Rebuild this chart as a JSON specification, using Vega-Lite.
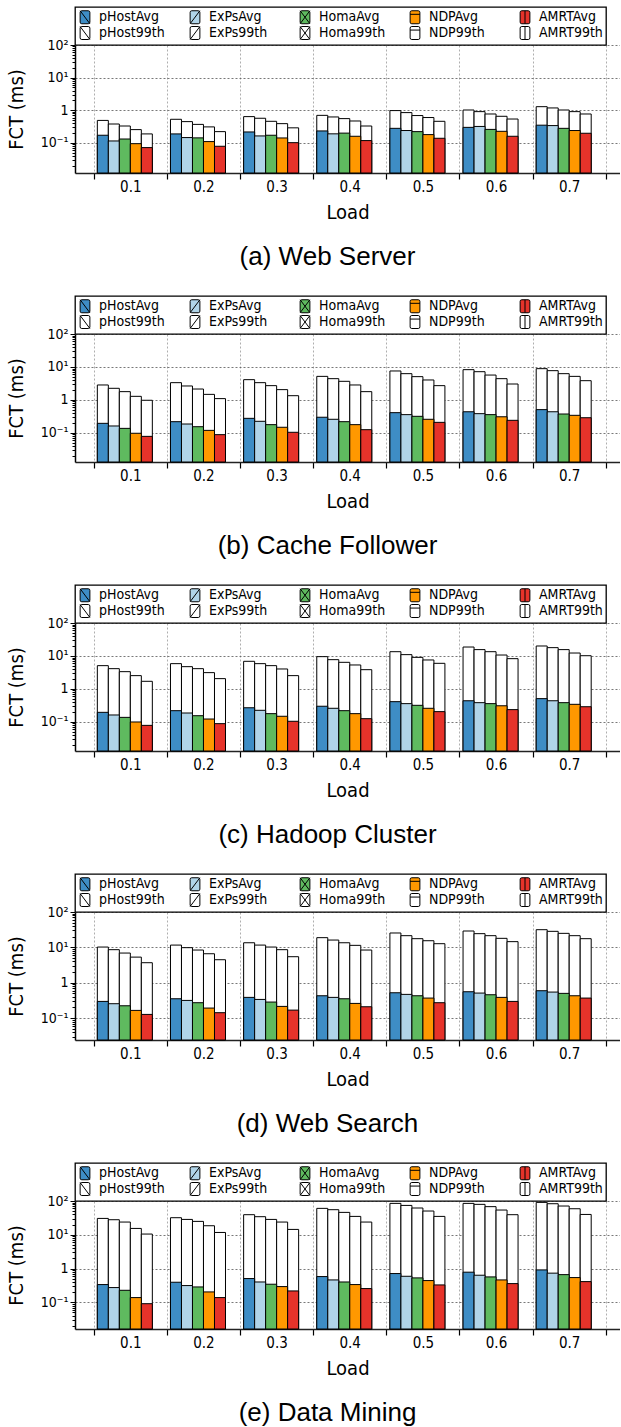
{
"$schema": "https://vega.github.io/schema/vega-lite/v6.json",
"padding": {"left": 6, "top": 6, "right": 0, "bottom": 0},
"background": "white",
"config": {
  "view": {"stroke": null},
  "font": "DejaVu Sans Condensed",
  "axis": {"labelFont": "DejaVu Sans Condensed", "titleFont": "DejaVu Sans Condensed", "labelColor": "black", "titleColor": "black", "tickColor": "black", "domainColor": "black", "titleFontWeight": "normal"},
  "axisX": {"titleFontSize": 20, "titlePadding": 8, "labelFontSize": 15, "labelAngle": 0, "labelPadding": 0, "tickSize": 6, "tickWidth": 1.2, "tickBand": "extent", "grid": true, "gridDash": [2, 2], "gridColor": "#999999", "gridWidth": 0.8, "domainWidth": 1.6, "domainColor": "#222222"},
  "legend": {"orient": "top", "direction": "horizontal", "columns": 5, "offset": 0, "strokeColor": "black", "strokeWidth": 1.3, "fillColor": "white", "padding": 3, "symbolSize": 169, "symbolStrokeColor": "black", "symbolStrokeWidth": 1, "symbolOpacity": 1, "labelFont": "DejaVu Sans Condensed", "labelFontSize": 14, "labelColor": "black", "labelOffset": 7, "columnPadding": 22, "rowPadding": -3, "gridAlign": "all", "labelLimit": 200},
  "title": {"font": "Liberation Sans", "fontSize": 26, "fontWeight": "normal", "color": "black", "orient": "bottom", "anchor": "middle", "dx": -20, "offset": 22}
},
"spacing": 25,
"resolve": {"scale": {"color": "independent", "shape": "independent"}},
"datasets": {
"fct": [
{"p":"a","l":"0.1","m":"pHost","s":"99th","k":"pHost99th","v":0.49},{"p":"a","l":"0.1","m":"ExPs","s":"99th","k":"ExPs99th","v":0.38},{"p":"a","l":"0.1","m":"Homa","s":"99th","k":"Homa99th","v":0.33},{"p":"a","l":"0.1","m":"NDP","s":"99th","k":"NDP99th","v":0.256},{"p":"a","l":"0.1","m":"AMRT","s":"99th","k":"AMRT99th","v":0.189},
{"p":"a","l":"0.1","m":"pHost","s":"Avg","k":"pHostAvg","v":0.172},{"p":"a","l":"0.1","m":"ExPs","s":"Avg","k":"ExPsAvg","v":0.115},{"p":"a","l":"0.1","m":"Homa","s":"Avg","k":"HomaAvg","v":0.132},{"p":"a","l":"0.1","m":"NDP","s":"Avg","k":"NDPAvg","v":0.095},{"p":"a","l":"0.1","m":"AMRT","s":"Avg","k":"AMRTAvg","v":0.072},
{"p":"a","l":"0.2","m":"pHost","s":"99th","k":"pHost99th","v":0.53},{"p":"a","l":"0.2","m":"ExPs","s":"99th","k":"ExPs99th","v":0.45},{"p":"a","l":"0.2","m":"Homa","s":"99th","k":"Homa99th","v":0.37},{"p":"a","l":"0.2","m":"NDP","s":"99th","k":"NDP99th","v":0.31},{"p":"a","l":"0.2","m":"AMRT","s":"99th","k":"AMRT99th","v":0.222},
{"p":"a","l":"0.2","m":"pHost","s":"Avg","k":"pHostAvg","v":0.189},{"p":"a","l":"0.2","m":"ExPs","s":"Avg","k":"ExPsAvg","v":0.146},{"p":"a","l":"0.2","m":"Homa","s":"Avg","k":"HomaAvg","v":0.143},{"p":"a","l":"0.2","m":"NDP","s":"Avg","k":"NDPAvg","v":0.11},{"p":"a","l":"0.2","m":"AMRT","s":"Avg","k":"AMRTAvg","v":0.079},
{"p":"a","l":"0.3","m":"pHost","s":"99th","k":"pHost99th","v":0.64},{"p":"a","l":"0.3","m":"ExPs","s":"99th","k":"ExPs99th","v":0.57},{"p":"a","l":"0.3","m":"Homa","s":"99th","k":"Homa99th","v":0.46},{"p":"a","l":"0.3","m":"NDP","s":"99th","k":"NDP99th","v":0.39},{"p":"a","l":"0.3","m":"AMRT","s":"99th","k":"AMRT99th","v":0.29},
{"p":"a","l":"0.3","m":"pHost","s":"Avg","k":"pHostAvg","v":0.217},{"p":"a","l":"0.3","m":"ExPs","s":"Avg","k":"ExPsAvg","v":0.164},{"p":"a","l":"0.3","m":"Homa","s":"Avg","k":"HomaAvg","v":0.172},{"p":"a","l":"0.3","m":"NDP","s":"Avg","k":"NDPAvg","v":0.142},{"p":"a","l":"0.3","m":"AMRT","s":"Avg","k":"AMRTAvg","v":0.102},
{"p":"a","l":"0.4","m":"pHost","s":"99th","k":"pHost99th","v":0.70},{"p":"a","l":"0.4","m":"ExPs","s":"99th","k":"ExPs99th","v":0.625},{"p":"a","l":"0.4","m":"Homa","s":"99th","k":"Homa99th","v":0.556},{"p":"a","l":"0.4","m":"NDP","s":"99th","k":"NDP99th","v":0.47},{"p":"a","l":"0.4","m":"AMRT","s":"99th","k":"AMRT99th","v":0.33},
{"p":"a","l":"0.4","m":"pHost","s":"Avg","k":"pHostAvg","v":0.233},{"p":"a","l":"0.4","m":"ExPs","s":"Avg","k":"ExPsAvg","v":0.19},{"p":"a","l":"0.4","m":"Homa","s":"Avg","k":"HomaAvg","v":0.20},{"p":"a","l":"0.4","m":"NDP","s":"Avg","k":"NDPAvg","v":0.16},{"p":"a","l":"0.4","m":"AMRT","s":"Avg","k":"AMRTAvg","v":0.118},
{"p":"a","l":"0.5","m":"pHost","s":"99th","k":"pHost99th","v":0.98},{"p":"a","l":"0.5","m":"ExPs","s":"99th","k":"ExPs99th","v":0.85},{"p":"a","l":"0.5","m":"Homa","s":"99th","k":"Homa99th","v":0.69},{"p":"a","l":"0.5","m":"NDP","s":"99th","k":"NDP99th","v":0.60},{"p":"a","l":"0.5","m":"AMRT","s":"99th","k":"AMRT99th","v":0.46},
{"p":"a","l":"0.5","m":"pHost","s":"Avg","k":"pHostAvg","v":0.28},{"p":"a","l":"0.5","m":"ExPs","s":"Avg","k":"ExPsAvg","v":0.24},{"p":"a","l":"0.5","m":"Homa","s":"Avg","k":"HomaAvg","v":0.222},{"p":"a","l":"0.5","m":"NDP","s":"Avg","k":"NDPAvg","v":0.18},{"p":"a","l":"0.5","m":"AMRT","s":"Avg","k":"AMRTAvg","v":0.139},
{"p":"a","l":"0.6","m":"pHost","s":"99th","k":"pHost99th","v":1.02},{"p":"a","l":"0.6","m":"ExPs","s":"99th","k":"ExPs99th","v":0.91},{"p":"a","l":"0.6","m":"Homa","s":"99th","k":"Homa99th","v":0.77},{"p":"a","l":"0.6","m":"NDP","s":"99th","k":"NDP99th","v":0.655},{"p":"a","l":"0.6","m":"AMRT","s":"99th","k":"AMRT99th","v":0.54},
{"p":"a","l":"0.6","m":"pHost","s":"Avg","k":"pHostAvg","v":0.30},{"p":"a","l":"0.6","m":"ExPs","s":"Avg","k":"ExPsAvg","v":0.32},{"p":"a","l":"0.6","m":"Homa","s":"Avg","k":"HomaAvg","v":0.26},{"p":"a","l":"0.6","m":"NDP","s":"Avg","k":"NDPAvg","v":0.227},{"p":"a","l":"0.6","m":"AMRT","s":"Avg","k":"AMRTAvg","v":0.16},
{"p":"a","l":"0.7","m":"pHost","s":"99th","k":"pHost99th","v":1.29},{"p":"a","l":"0.7","m":"ExPs","s":"99th","k":"ExPs99th","v":1.18},{"p":"a","l":"0.7","m":"Homa","s":"99th","k":"Homa99th","v":1.02},{"p":"a","l":"0.7","m":"NDP","s":"99th","k":"NDP99th","v":0.91},{"p":"a","l":"0.7","m":"AMRT","s":"99th","k":"AMRT99th","v":0.77},
{"p":"a","l":"0.7","m":"pHost","s":"Avg","k":"pHostAvg","v":0.35},{"p":"a","l":"0.7","m":"ExPs","s":"Avg","k":"ExPsAvg","v":0.34},{"p":"a","l":"0.7","m":"Homa","s":"Avg","k":"HomaAvg","v":0.28},{"p":"a","l":"0.7","m":"NDP","s":"Avg","k":"NDPAvg","v":0.24},{"p":"a","l":"0.7","m":"AMRT","s":"Avg","k":"AMRTAvg","v":0.198},
{"p":"b","l":"0.1","m":"pHost","s":"99th","k":"pHost99th","v":2.85},{"p":"b","l":"0.1","m":"ExPs","s":"99th","k":"ExPs99th","v":2.26},{"p":"b","l":"0.1","m":"Homa","s":"99th","k":"Homa99th","v":1.79},{"p":"b","l":"0.1","m":"NDP","s":"99th","k":"NDP99th","v":1.29},{"p":"b","l":"0.1","m":"AMRT","s":"99th","k":"AMRT99th","v":0.98},
{"p":"b","l":"0.1","m":"pHost","s":"Avg","k":"pHostAvg","v":0.196},{"p":"b","l":"0.1","m":"ExPs","s":"Avg","k":"ExPsAvg","v":0.163},{"p":"b","l":"0.1","m":"Homa","s":"Avg","k":"HomaAvg","v":0.138},{"p":"b","l":"0.1","m":"NDP","s":"Avg","k":"NDPAvg","v":0.098},{"p":"b","l":"0.1","m":"AMRT","s":"Avg","k":"AMRTAvg","v":0.079},
{"p":"b","l":"0.2","m":"pHost","s":"99th","k":"pHost99th","v":3.35},{"p":"b","l":"0.2","m":"ExPs","s":"99th","k":"ExPs99th","v":2.66},{"p":"b","l":"0.2","m":"Homa","s":"99th","k":"Homa99th","v":2.15},{"p":"b","l":"0.2","m":"NDP","s":"99th","k":"NDP99th","v":1.48},{"p":"b","l":"0.2","m":"AMRT","s":"99th","k":"AMRT99th","v":1.1},
{"p":"b","l":"0.2","m":"pHost","s":"Avg","k":"pHostAvg","v":0.22},{"p":"b","l":"0.2","m":"ExPs","s":"Avg","k":"ExPsAvg","v":0.187},{"p":"b","l":"0.2","m":"Homa","s":"Avg","k":"HomaAvg","v":0.155},{"p":"b","l":"0.2","m":"NDP","s":"Avg","k":"NDPAvg","v":0.12},{"p":"b","l":"0.2","m":"AMRT","s":"Avg","k":"AMRTAvg","v":0.089},
{"p":"b","l":"0.3","m":"pHost","s":"99th","k":"pHost99th","v":4.13},{"p":"b","l":"0.3","m":"ExPs","s":"99th","k":"ExPs99th","v":3.35},{"p":"b","l":"0.3","m":"Homa","s":"99th","k":"Homa99th","v":2.72},{"p":"b","l":"0.3","m":"NDP","s":"99th","k":"NDP99th","v":2.06},{"p":"b","l":"0.3","m":"AMRT","s":"99th","k":"AMRT99th","v":1.35},
{"p":"b","l":"0.3","m":"pHost","s":"Avg","k":"pHostAvg","v":0.278},{"p":"b","l":"0.3","m":"ExPs","s":"Avg","k":"ExPsAvg","v":0.226},{"p":"b","l":"0.3","m":"Homa","s":"Avg","k":"HomaAvg","v":0.179},{"p":"b","l":"0.3","m":"NDP","s":"Avg","k":"NDPAvg","v":0.149},{"p":"b","l":"0.3","m":"AMRT","s":"Avg","k":"AMRTAvg","v":0.105},
{"p":"b","l":"0.4","m":"pHost","s":"99th","k":"pHost99th","v":5.2},{"p":"b","l":"0.4","m":"ExPs","s":"99th","k":"ExPs99th","v":4.43},{"p":"b","l":"0.4","m":"Homa","s":"99th","k":"Homa99th","v":3.68},{"p":"b","l":"0.4","m":"NDP","s":"99th","k":"NDP99th","v":2.85},{"p":"b","l":"0.4","m":"AMRT","s":"99th","k":"AMRT99th","v":1.79},
{"p":"b","l":"0.4","m":"pHost","s":"Avg","k":"pHostAvg","v":0.30},{"p":"b","l":"0.4","m":"ExPs","s":"Avg","k":"ExPsAvg","v":0.26},{"p":"b","l":"0.4","m":"Homa","s":"Avg","k":"HomaAvg","v":0.22},{"p":"b","l":"0.4","m":"NDP","s":"Avg","k":"NDPAvg","v":0.179},{"p":"b","l":"0.4","m":"AMRT","s":"Avg","k":"AMRTAvg","v":0.126},
{"p":"b","l":"0.5","m":"pHost","s":"99th","k":"pHost99th","v":7.57},{"p":"b","l":"0.5","m":"ExPs","s":"99th","k":"ExPs99th","v":6.28},{"p":"b","l":"0.5","m":"Homa","s":"99th","k":"Homa99th","v":5.1},{"p":"b","l":"0.5","m":"NDP","s":"99th","k":"NDP99th","v":4.04},{"p":"b","l":"0.5","m":"AMRT","s":"99th","k":"AMRT99th","v":2.72},
{"p":"b","l":"0.5","m":"pHost","s":"Avg","k":"pHostAvg","v":0.413},{"p":"b","l":"0.5","m":"ExPs","s":"Avg","k":"ExPsAvg","v":0.36},{"p":"b","l":"0.5","m":"Homa","s":"Avg","k":"HomaAvg","v":0.32},{"p":"b","l":"0.5","m":"NDP","s":"Avg","k":"NDPAvg","v":0.26},{"p":"b","l":"0.5","m":"AMRT","s":"Avg","k":"AMRTAvg","v":0.21},
{"p":"b","l":"0.6","m":"pHost","s":"99th","k":"pHost99th","v":8.3},{"p":"b","l":"0.6","m":"ExPs","s":"99th","k":"ExPs99th","v":7.2},{"p":"b","l":"0.6","m":"Homa","s":"99th","k":"Homa99th","v":5.7},{"p":"b","l":"0.6","m":"NDP","s":"99th","k":"NDP99th","v":4.43},{"p":"b","l":"0.6","m":"AMRT","s":"99th","k":"AMRT99th","v":3.05},
{"p":"b","l":"0.6","m":"pHost","s":"Avg","k":"pHostAvg","v":0.44},{"p":"b","l":"0.6","m":"ExPs","s":"Avg","k":"ExPsAvg","v":0.385},{"p":"b","l":"0.6","m":"Homa","s":"Avg","k":"HomaAvg","v":0.36},{"p":"b","l":"0.6","m":"NDP","s":"Avg","k":"NDPAvg","v":0.31},{"p":"b","l":"0.6","m":"AMRT","s":"Avg","k":"AMRTAvg","v":0.242},
{"p":"b","l":"0.7","m":"pHost","s":"99th","k":"pHost99th","v":8.9},{"p":"b","l":"0.7","m":"ExPs","s":"99th","k":"ExPs99th","v":7.74},{"p":"b","l":"0.7","m":"Homa","s":"99th","k":"Homa99th","v":6.28},{"p":"b","l":"0.7","m":"NDP","s":"99th","k":"NDP99th","v":5.2},{"p":"b","l":"0.7","m":"AMRT","s":"99th","k":"AMRT99th","v":3.85},
{"p":"b","l":"0.7","m":"pHost","s":"Avg","k":"pHostAvg","v":0.51},{"p":"b","l":"0.7","m":"ExPs","s":"Avg","k":"ExPsAvg","v":0.44},{"p":"b","l":"0.7","m":"Homa","s":"Avg","k":"HomaAvg","v":0.376},{"p":"b","l":"0.7","m":"NDP","s":"Avg","k":"NDPAvg","v":0.343},{"p":"b","l":"0.7","m":"AMRT","s":"Avg","k":"AMRTAvg","v":0.29},
{"p":"c","l":"0.1","m":"pHost","s":"99th","k":"pHost99th","v":5.1},{"p":"c","l":"0.1","m":"ExPs","s":"99th","k":"ExPs99th","v":4.13},{"p":"c","l":"0.1","m":"Homa","s":"99th","k":"Homa99th","v":3.35},{"p":"c","l":"0.1","m":"NDP","s":"99th","k":"NDP99th","v":2.54},{"p":"c","l":"0.1","m":"AMRT","s":"99th","k":"AMRT99th","v":1.71},
{"p":"c","l":"0.1","m":"pHost","s":"Avg","k":"pHostAvg","v":0.196},{"p":"c","l":"0.1","m":"ExPs","s":"Avg","k":"ExPsAvg","v":0.163},{"p":"c","l":"0.1","m":"Homa","s":"Avg","k":"HomaAvg","v":0.138},{"p":"c","l":"0.1","m":"NDP","s":"Avg","k":"NDPAvg","v":0.1},{"p":"c","l":"0.1","m":"AMRT","s":"Avg","k":"AMRTAvg","v":0.079},
{"p":"c","l":"0.2","m":"pHost","s":"99th","k":"pHost99th","v":5.86},{"p":"c","l":"0.2","m":"ExPs","s":"99th","k":"ExPs99th","v":4.75},{"p":"c","l":"0.2","m":"Homa","s":"99th","k":"Homa99th","v":4.13},{"p":"c","l":"0.2","m":"NDP","s":"99th","k":"NDP99th","v":3.13},{"p":"c","l":"0.2","m":"AMRT","s":"99th","k":"AMRT99th","v":2.06},
{"p":"c","l":"0.2","m":"pHost","s":"Avg","k":"pHostAvg","v":0.22},{"p":"c","l":"0.2","m":"ExPs","s":"Avg","k":"ExPsAvg","v":0.187},{"p":"c","l":"0.2","m":"Homa","s":"Avg","k":"HomaAvg","v":0.155},{"p":"c","l":"0.2","m":"NDP","s":"Avg","k":"NDPAvg","v":0.123},{"p":"c","l":"0.2","m":"AMRT","s":"Avg","k":"AMRTAvg","v":0.089},
{"p":"c","l":"0.3","m":"pHost","s":"99th","k":"pHost99th","v":6.9},{"p":"c","l":"0.3","m":"ExPs","s":"99th","k":"ExPs99th","v":5.86},{"p":"c","l":"0.3","m":"Homa","s":"99th","k":"Homa99th","v":5.1},{"p":"c","l":"0.3","m":"NDP","s":"99th","k":"NDP99th","v":4.04},{"p":"c","l":"0.3","m":"AMRT","s":"99th","k":"AMRT99th","v":2.54},
{"p":"c","l":"0.3","m":"pHost","s":"Avg","k":"pHostAvg","v":0.27},{"p":"c","l":"0.3","m":"ExPs","s":"Avg","k":"ExPsAvg","v":0.226},{"p":"c","l":"0.3","m":"Homa","s":"Avg","k":"HomaAvg","v":0.179},{"p":"c","l":"0.3","m":"NDP","s":"Avg","k":"NDPAvg","v":0.149},{"p":"c","l":"0.3","m":"AMRT","s":"Avg","k":"AMRTAvg","v":0.105},
{"p":"c","l":"0.4","m":"pHost","s":"99th","k":"pHost99th","v":9.55},{"p":"c","l":"0.4","m":"ExPs","s":"99th","k":"ExPs99th","v":7.74},{"p":"c","l":"0.4","m":"Homa","s":"99th","k":"Homa99th","v":6.43},{"p":"c","l":"0.4","m":"NDP","s":"99th","k":"NDP99th","v":5.34},{"p":"c","l":"0.4","m":"AMRT","s":"99th","k":"AMRT99th","v":3.85},
{"p":"c","l":"0.4","m":"pHost","s":"Avg","k":"pHostAvg","v":0.30},{"p":"c","l":"0.4","m":"ExPs","s":"Avg","k":"ExPsAvg","v":0.26},{"p":"c","l":"0.4","m":"Homa","s":"Avg","k":"HomaAvg","v":0.22},{"p":"c","l":"0.4","m":"NDP","s":"Avg","k":"NDPAvg","v":0.179},{"p":"c","l":"0.4","m":"AMRT","s":"Avg","k":"AMRTAvg","v":0.126},
{"p":"c","l":"0.5","m":"pHost","s":"99th","k":"pHost99th","v":13.5},{"p":"c","l":"0.5","m":"ExPs","s":"99th","k":"ExPs99th","v":11.0},{"p":"c","l":"0.5","m":"Homa","s":"99th","k":"Homa99th","v":9.1},{"p":"c","l":"0.5","m":"NDP","s":"99th","k":"NDP99th","v":7.57},{"p":"c","l":"0.5","m":"AMRT","s":"99th","k":"AMRT99th","v":6.0},
{"p":"c","l":"0.5","m":"pHost","s":"Avg","k":"pHostAvg","v":0.413},{"p":"c","l":"0.5","m":"ExPs","s":"Avg","k":"ExPsAvg","v":0.36},{"p":"c","l":"0.5","m":"Homa","s":"Avg","k":"HomaAvg","v":0.32},{"p":"c","l":"0.5","m":"NDP","s":"Avg","k":"NDPAvg","v":0.26},{"p":"c","l":"0.5","m":"AMRT","s":"Avg","k":"AMRTAvg","v":0.206},
{"p":"c","l":"0.6","m":"pHost","s":"99th","k":"pHost99th","v":18.7},{"p":"c","l":"0.6","m":"ExPs","s":"99th","k":"ExPs99th","v":15.6},{"p":"c","l":"0.6","m":"Homa","s":"99th","k":"Homa99th","v":13.5},{"p":"c","l":"0.6","m":"NDP","s":"99th","k":"NDP99th","v":10.7},{"p":"c","l":"0.6","m":"AMRT","s":"99th","k":"AMRT99th","v":8.3},
{"p":"c","l":"0.6","m":"pHost","s":"Avg","k":"pHostAvg","v":0.44},{"p":"c","l":"0.6","m":"ExPs","s":"Avg","k":"ExPsAvg","v":0.385},{"p":"c","l":"0.6","m":"Homa","s":"Avg","k":"HomaAvg","v":0.36},{"p":"c","l":"0.6","m":"NDP","s":"Avg","k":"NDPAvg","v":0.31},{"p":"c","l":"0.6","m":"AMRT","s":"Avg","k":"AMRTAvg","v":0.237},
{"p":"c","l":"0.7","m":"pHost","s":"99th","k":"pHost99th","v":20.1},{"p":"c","l":"0.7","m":"ExPs","s":"99th","k":"ExPs99th","v":17.9},{"p":"c","l":"0.7","m":"Homa","s":"99th","k":"Homa99th","v":15.6},{"p":"c","l":"0.7","m":"NDP","s":"99th","k":"NDP99th","v":12.3},{"p":"c","l":"0.7","m":"AMRT","s":"99th","k":"AMRT99th","v":10.2},
{"p":"c","l":"0.7","m":"pHost","s":"Avg","k":"pHostAvg","v":0.51},{"p":"c","l":"0.7","m":"ExPs","s":"Avg","k":"ExPsAvg","v":0.44},{"p":"c","l":"0.7","m":"Homa","s":"Avg","k":"HomaAvg","v":0.385},{"p":"c","l":"0.7","m":"NDP","s":"Avg","k":"NDPAvg","v":0.343},{"p":"c","l":"0.7","m":"AMRT","s":"Avg","k":"AMRTAvg","v":0.29},
{"p":"d","l":"0.1","m":"pHost","s":"99th","k":"pHost99th","v":10.2},{"p":"d","l":"0.1","m":"ExPs","s":"99th","k":"ExPs99th","v":8.6},{"p":"d","l":"0.1","m":"Homa","s":"99th","k":"Homa99th","v":6.9},{"p":"d","l":"0.1","m":"NDP","s":"99th","k":"NDP99th","v":5.3},{"p":"d","l":"0.1","m":"AMRT","s":"99th","k":"AMRT99th","v":3.68},
{"p":"d","l":"0.1","m":"pHost","s":"Avg","k":"pHostAvg","v":0.296},{"p":"d","l":"0.1","m":"ExPs","s":"Avg","k":"ExPsAvg","v":0.255},{"p":"d","l":"0.1","m":"Homa","s":"Avg","k":"HomaAvg","v":0.223},{"p":"d","l":"0.1","m":"NDP","s":"Avg","k":"NDPAvg","v":0.165},{"p":"d","l":"0.1","m":"AMRT","s":"Avg","k":"AMRTAvg","v":0.127},
{"p":"d","l":"0.2","m":"pHost","s":"99th","k":"pHost99th","v":11.6},{"p":"d","l":"0.2","m":"ExPs","s":"99th","k":"ExPs99th","v":9.8},{"p":"d","l":"0.2","m":"Homa","s":"99th","k":"Homa99th","v":8.4},{"p":"d","l":"0.2","m":"NDP","s":"99th","k":"NDP99th","v":6.6},{"p":"d","l":"0.2","m":"AMRT","s":"99th","k":"AMRT99th","v":4.47},
{"p":"d","l":"0.2","m":"pHost","s":"Avg","k":"pHostAvg","v":0.352},{"p":"d","l":"0.2","m":"ExPs","s":"Avg","k":"ExPsAvg","v":0.316},{"p":"d","l":"0.2","m":"Homa","s":"Avg","k":"HomaAvg","v":0.272},{"p":"d","l":"0.2","m":"NDP","s":"Avg","k":"NDPAvg","v":0.192},{"p":"d","l":"0.2","m":"AMRT","s":"Avg","k":"AMRTAvg","v":0.142},
{"p":"d","l":"0.3","m":"pHost","s":"99th","k":"pHost99th","v":13.5},{"p":"d","l":"0.3","m":"ExPs","s":"99th","k":"ExPs99th","v":11.6},{"p":"d","l":"0.3","m":"Homa","s":"99th","k":"Homa99th","v":10.2},{"p":"d","l":"0.3","m":"NDP","s":"99th","k":"NDP99th","v":8.6},{"p":"d","l":"0.3","m":"AMRT","s":"99th","k":"AMRT99th","v":5.44},
{"p":"d","l":"0.3","m":"pHost","s":"Avg","k":"pHostAvg","v":0.385},{"p":"d","l":"0.3","m":"ExPs","s":"Avg","k":"ExPsAvg","v":0.337},{"p":"d","l":"0.3","m":"Homa","s":"Avg","k":"HomaAvg","v":0.284},{"p":"d","l":"0.3","m":"NDP","s":"Avg","k":"NDPAvg","v":0.214},{"p":"d","l":"0.3","m":"AMRT","s":"Avg","k":"AMRTAvg","v":0.168},
{"p":"d","l":"0.4","m":"pHost","s":"99th","k":"pHost99th","v":18.8},{"p":"d","l":"0.4","m":"ExPs","s":"99th","k":"ExPs99th","v":16.1},{"p":"d","l":"0.4","m":"Homa","s":"99th","k":"Homa99th","v":13.5},{"p":"d","l":"0.4","m":"NDP","s":"99th","k":"NDP99th","v":11.4},{"p":"d","l":"0.4","m":"AMRT","s":"99th","k":"AMRT99th","v":8.4},
{"p":"d","l":"0.4","m":"pHost","s":"Avg","k":"pHostAvg","v":0.428},{"p":"d","l":"0.4","m":"ExPs","s":"Avg","k":"ExPsAvg","v":0.385},{"p":"d","l":"0.4","m":"Homa","s":"Avg","k":"HomaAvg","v":0.352},{"p":"d","l":"0.4","m":"NDP","s":"Avg","k":"NDPAvg","v":0.26},{"p":"d","l":"0.4","m":"AMRT","s":"Avg","k":"AMRTAvg","v":0.209},
{"p":"d","l":"0.5","m":"pHost","s":"99th","k":"pHost99th","v":25.5},{"p":"d","l":"0.5","m":"ExPs","s":"99th","k":"ExPs99th","v":21.4},{"p":"d","l":"0.5","m":"Homa","s":"99th","k":"Homa99th","v":17.6},{"p":"d","l":"0.5","m":"NDP","s":"99th","k":"NDP99th","v":15.4},{"p":"d","l":"0.5","m":"AMRT","s":"99th","k":"AMRT99th","v":12.7},
{"p":"d","l":"0.5","m":"pHost","s":"Avg","k":"pHostAvg","v":0.52},{"p":"d","l":"0.5","m":"ExPs","s":"Avg","k":"ExPsAvg","v":0.468},{"p":"d","l":"0.5","m":"Homa","s":"Avg","k":"HomaAvg","v":0.428},{"p":"d","l":"0.5","m":"NDP","s":"Avg","k":"NDPAvg","v":0.368},{"p":"d","l":"0.5","m":"AMRT","s":"Avg","k":"AMRTAvg","v":0.272},
{"p":"d","l":"0.6","m":"pHost","s":"99th","k":"pHost99th","v":29},{"p":"d","l":"0.6","m":"ExPs","s":"99th","k":"ExPs99th","v":24.4},{"p":"d","l":"0.6","m":"Homa","s":"99th","k":"Homa99th","v":21.4},{"p":"d","l":"0.6","m":"NDP","s":"99th","k":"NDP99th","v":18},{"p":"d","l":"0.6","m":"AMRT","s":"99th","k":"AMRT99th","v":14.5},
{"p":"d","l":"0.6","m":"pHost","s":"Avg","k":"pHostAvg","v":0.556},{"p":"d","l":"0.6","m":"ExPs","s":"Avg","k":"ExPsAvg","v":0.51},{"p":"d","l":"0.6","m":"Homa","s":"Avg","k":"HomaAvg","v":0.457},{"p":"d","l":"0.6","m":"NDP","s":"Avg","k":"NDPAvg","v":0.385},{"p":"d","l":"0.6","m":"AMRT","s":"Avg","k":"AMRTAvg","v":0.296},
{"p":"d","l":"0.7","m":"pHost","s":"99th","k":"pHost99th","v":31.6},{"p":"d","l":"0.7","m":"ExPs","s":"99th","k":"ExPs99th","v":28.4},{"p":"d","l":"0.7","m":"Homa","s":"99th","k":"Homa99th","v":24.9},{"p":"d","l":"0.7","m":"NDP","s":"99th","k":"NDP99th","v":21.4},{"p":"d","l":"0.7","m":"AMRT","s":"99th","k":"AMRT99th","v":17.6},
{"p":"d","l":"0.7","m":"pHost","s":"Avg","k":"pHostAvg","v":0.594},{"p":"d","l":"0.7","m":"ExPs","s":"Avg","k":"ExPsAvg","v":0.544},{"p":"d","l":"0.7","m":"Homa","s":"Avg","k":"HomaAvg","v":0.5},{"p":"d","l":"0.7","m":"NDP","s":"Avg","k":"NDPAvg","v":0.428},{"p":"d","l":"0.7","m":"AMRT","s":"Avg","k":"AMRTAvg","v":0.368},
{"p":"e","l":"0.1","m":"pHost","s":"99th","k":"pHost99th","v":30.5},{"p":"e","l":"0.1","m":"ExPs","s":"99th","k":"ExPs99th","v":27.9},{"p":"e","l":"0.1","m":"Homa","s":"99th","k":"Homa99th","v":23.8},{"p":"e","l":"0.1","m":"NDP","s":"99th","k":"NDP99th","v":15.4},{"p":"e","l":"0.1","m":"AMRT","s":"99th","k":"AMRT99th","v":10.5},
{"p":"e","l":"0.1","m":"pHost","s":"Avg","k":"pHostAvg","v":0.335},{"p":"e","l":"0.1","m":"ExPs","s":"Avg","k":"ExPsAvg","v":0.273},{"p":"e","l":"0.1","m":"Homa","s":"Avg","k":"HomaAvg","v":0.227},{"p":"e","l":"0.1","m":"NDP","s":"Avg","k":"NDPAvg","v":0.138},{"p":"e","l":"0.1","m":"AMRT","s":"Avg","k":"AMRTAvg","v":0.091},
{"p":"e","l":"0.2","m":"pHost","s":"99th","k":"pHost99th","v":32},{"p":"e","l":"0.2","m":"ExPs","s":"99th","k":"ExPs99th","v":28.5},{"p":"e","l":"0.2","m":"Homa","s":"99th","k":"Homa99th","v":24.9},{"p":"e","l":"0.2","m":"NDP","s":"99th","k":"NDP99th","v":18.5},{"p":"e","l":"0.2","m":"AMRT","s":"99th","k":"AMRT99th","v":11.7},
{"p":"e","l":"0.2","m":"pHost","s":"Avg","k":"pHostAvg","v":0.393},{"p":"e","l":"0.2","m":"ExPs","s":"Avg","k":"ExPsAvg","v":0.313},{"p":"e","l":"0.2","m":"Homa","s":"Avg","k":"HomaAvg","v":0.285},{"p":"e","l":"0.2","m":"NDP","s":"Avg","k":"NDPAvg","v":0.203},{"p":"e","l":"0.2","m":"AMRT","s":"Avg","k":"AMRTAvg","v":0.138},
{"p":"e","l":"0.3","m":"pHost","s":"99th","k":"pHost99th","v":39.3},{"p":"e","l":"0.3","m":"ExPs","s":"99th","k":"ExPs99th","v":34.3},{"p":"e","l":"0.3","m":"Homa","s":"99th","k":"Homa99th","v":28.5},{"p":"e","l":"0.3","m":"NDP","s":"99th","k":"NDP99th","v":23.8},{"p":"e","l":"0.3","m":"AMRT","s":"99th","k":"AMRT99th","v":14.4},
{"p":"e","l":"0.3","m":"pHost","s":"Avg","k":"pHostAvg","v":0.505},{"p":"e","l":"0.3","m":"ExPs","s":"Avg","k":"ExPsAvg","v":0.40},{"p":"e","l":"0.3","m":"Homa","s":"Avg","k":"HomaAvg","v":0.343},{"p":"e","l":"0.3","m":"NDP","s":"Avg","k":"NDPAvg","v":0.292},{"p":"e","l":"0.3","m":"AMRT","s":"Avg","k":"AMRTAvg","v":0.217},
{"p":"e","l":"0.4","m":"pHost","s":"99th","k":"pHost99th","v":60.5},{"p":"e","l":"0.4","m":"ExPs","s":"99th","k":"ExPs99th","v":55.3},{"p":"e","l":"0.4","m":"Homa","s":"99th","k":"Homa99th","v":46},{"p":"e","l":"0.4","m":"NDP","s":"99th","k":"NDP99th","v":35},{"p":"e","l":"0.4","m":"AMRT","s":"99th","k":"AMRT99th","v":23.8},
{"p":"e","l":"0.4","m":"pHost","s":"Avg","k":"pHostAvg","v":0.578},{"p":"e","l":"0.4","m":"ExPs","s":"Avg","k":"ExPsAvg","v":0.46},{"p":"e","l":"0.4","m":"Homa","s":"Avg","k":"HomaAvg","v":0.40},{"p":"e","l":"0.4","m":"NDP","s":"Avg","k":"NDPAvg","v":0.335},{"p":"e","l":"0.4","m":"AMRT","s":"Avg","k":"AMRTAvg","v":0.255},
{"p":"e","l":"0.5","m":"pHost","s":"99th","k":"pHost99th","v":85},{"p":"e","l":"0.5","m":"ExPs","s":"99th","k":"ExPs99th","v":74},{"p":"e","l":"0.5","m":"Homa","s":"99th","k":"Homa99th","v":62},{"p":"e","l":"0.5","m":"NDP","s":"99th","k":"NDP99th","v":50.5},{"p":"e","l":"0.5","m":"AMRT","s":"99th","k":"AMRT99th","v":35},
{"p":"e","l":"0.5","m":"pHost","s":"Avg","k":"pHostAvg","v":0.71},{"p":"e","l":"0.5","m":"ExPs","s":"Avg","k":"ExPsAvg","v":0.59},{"p":"e","l":"0.5","m":"Homa","s":"Avg","k":"HomaAvg","v":0.528},{"p":"e","l":"0.5","m":"NDP","s":"Avg","k":"NDPAvg","v":0.44},{"p":"e","l":"0.5","m":"AMRT","s":"Avg","k":"AMRTAvg","v":0.327},
{"p":"e","l":"0.6","m":"pHost","s":"99th","k":"pHost99th","v":85},{"p":"e","l":"0.6","m":"ExPs","s":"99th","k":"ExPs99th","v":79.6},{"p":"e","l":"0.6","m":"Homa","s":"99th","k":"Homa99th","v":68},{"p":"e","l":"0.6","m":"NDP","s":"99th","k":"NDP99th","v":54},{"p":"e","l":"0.6","m":"AMRT","s":"99th","k":"AMRT99th","v":39.3},
{"p":"e","l":"0.6","m":"pHost","s":"Avg","k":"pHostAvg","v":0.78},{"p":"e","l":"0.6","m":"ExPs","s":"Avg","k":"ExPsAvg","v":0.634},{"p":"e","l":"0.6","m":"Homa","s":"Avg","k":"HomaAvg","v":0.565},{"p":"e","l":"0.6","m":"NDP","s":"Avg","k":"NDPAvg","v":0.46},{"p":"e","l":"0.6","m":"AMRT","s":"Avg","k":"AMRTAvg","v":0.358},
{"p":"e","l":"0.7","m":"pHost","s":"99th","k":"pHost99th","v":91},{"p":"e","l":"0.7","m":"ExPs","s":"99th","k":"ExPs99th","v":83},{"p":"e","l":"0.7","m":"Homa","s":"99th","k":"Homa99th","v":71},{"p":"e","l":"0.7","m":"NDP","s":"99th","k":"NDP99th","v":59},{"p":"e","l":"0.7","m":"AMRT","s":"99th","k":"AMRT99th","v":40},
{"p":"e","l":"0.7","m":"pHost","s":"Avg","k":"pHostAvg","v":0.91},{"p":"e","l":"0.7","m":"ExPs","s":"Avg","k":"ExPsAvg","v":0.73},{"p":"e","l":"0.7","m":"Homa","s":"Avg","k":"HomaAvg","v":0.66},{"p":"e","l":"0.7","m":"NDP","s":"Avg","k":"NDPAvg","v":0.54},{"p":"e","l":"0.7","m":"AMRT","s":"Avg","k":"AMRTAvg","v":0.41}
]},
"data": {"name": "fct"},
"vconcat": [
{"width": 545, "height": 128, "title": {"text": "(a) Web Server"},
 "transform": [{"filter": "datum.p == 'a'"}],
 "encoding": {
  "x": {"field": "l", "type": "nominal", "title": "Load", "scale": {"paddingInner": 0, "paddingOuter": 0.2256, "align": 0.567}},
  "xOffset": {"field": "m", "type": "nominal", "sort": ["pHost", "ExPs", "Homa", "NDP", "AMRT"], "scale": {"paddingInner": 0, "paddingOuter": 0.8245, "align": 0.2}}
 },
 "layer": [
  {"mark": {"type": "point", "filled": true, "opacity": 0},
   "encoding": {"y": {"field": "v", "type": "quantitative", "scale": {"type": "log", "domain": [0.012, 100], "nice": false}, "axis": null},
    "color": {"field": "k", "type": "nominal", "scale": {"domain": ["pHostAvg", "ExPsAvg", "HomaAvg", "NDPAvg", "AMRTAvg", "pHost99th", "ExPs99th", "Homa99th", "NDP99th", "AMRT99th"], "range": ["#3e8dc5", "#b0d4e8", "#5fba5f", "#ff9800", "#e6332a", "white", "white", "white", "white", "white"]}, "legend": {"title": null, "encode": {"symbols": {"update": {"stroke": {"value": "black"}, "strokeWidth": {"value": 1}, "strokeOpacity": {"value": 1}, "opacity": {"value": 1}}}}}},
    "shape": {"field": "k", "type": "nominal", "scale": {"domain": ["pHostAvg", "ExPsAvg", "HomaAvg", "NDPAvg", "AMRTAvg", "pHost99th", "ExPs99th", "Homa99th", "NDP99th", "AMRT99th"], "range": ["M-0.5,-1H0.5Q0.75,-1 0.75,-0.75V0.75Q0.75,1 0.5,1H-0.5Q-0.75,1 -0.75,0.75V-0.75Q-0.75,-1 -0.5,-1ZM-0.75,-1L0.75,1", "M-0.5,-1H0.5Q0.75,-1 0.75,-0.75V0.75Q0.75,1 0.5,1H-0.5Q-0.75,1 -0.75,0.75V-0.75Q-0.75,-1 -0.5,-1ZM-0.75,1L0.75,-1", "M-0.5,-1H0.5Q0.75,-1 0.75,-0.75V0.75Q0.75,1 0.5,1H-0.5Q-0.75,1 -0.75,0.75V-0.75Q-0.75,-1 -0.5,-1ZM-0.75,-1L0.75,1M-0.75,1L0.75,-1", "M-0.5,-1H0.5Q0.75,-1 0.75,-0.75V0.75Q0.75,1 0.5,1H-0.5Q-0.75,1 -0.75,0.75V-0.75Q-0.75,-1 -0.5,-1ZM-0.75,-0.45H0.75", "M-0.5,-1H0.5Q0.75,-1 0.75,-0.75V0.75Q0.75,1 0.5,1H-0.5Q-0.75,1 -0.75,0.75V-0.75Q-0.75,-1 -0.5,-1ZM0,-1V1", "M-0.5,-1H0.5Q0.75,-1 0.75,-0.75V0.75Q0.75,1 0.5,1H-0.5Q-0.75,1 -0.75,0.75V-0.75Q-0.75,-1 -0.5,-1ZM-0.75,-1L0.75,1", "M-0.5,-1H0.5Q0.75,-1 0.75,-0.75V0.75Q0.75,1 0.5,1H-0.5Q-0.75,1 -0.75,0.75V-0.75Q-0.75,-1 -0.5,-1ZM-0.75,1L0.75,-1", "M-0.5,-1H0.5Q0.75,-1 0.75,-0.75V0.75Q0.75,1 0.5,1H-0.5Q-0.75,1 -0.75,0.75V-0.75Q-0.75,-1 -0.5,-1ZM-0.75,-1L0.75,1M-0.75,1L0.75,-1", "M-0.5,-1H0.5Q0.75,-1 0.75,-0.75V0.75Q0.75,1 0.5,1H-0.5Q-0.75,1 -0.75,0.75V-0.75Q-0.75,-1 -0.5,-1ZM-0.75,-0.45H0.75", "M-0.5,-1H0.5Q0.75,-1 0.75,-0.75V0.75Q0.75,1 0.5,1H-0.5Q-0.75,1 -0.75,0.75V-0.75Q-0.75,-1 -0.5,-1ZM0,-1V1"]}, "legend": {"title": null}}}},
  {"transform": [{"filter": "datum.s == '99th'"}], "mark": {"type": "bar", "fill": "white", "stroke": "black", "strokeWidth": 1},
   "encoding": {"y": {"field": "v", "type": "quantitative", "stack": null, "scale": {"type": "log", "domain": [0.012, 100], "nice": false}, "axis": {"orient": "left", "title": "FCT (ms)", "titleFontSize": 20, "titlePadding": 14, "values": [0.1, 1, 10, 100], "labelExpr": "datum.value == 100 ? '10²' : datum.value == 10 ? '10¹' : datum.value == 1 ? '1' : '10⁻¹'", "labelFontSize": 14, "labelPadding": 2, "tickSize": 5, "grid": true, "gridDash": [2, 2], "gridColor": "#555555", "gridWidth": 0.8, "domainWidth": 1.5}}}},
  {"transform": [{"filter": "datum.s == 'Avg'"}], "mark": {"type": "bar", "stroke": "black", "strokeWidth": 1},
   "encoding": {"y": {"field": "v", "type": "quantitative", "stack": null, "scale": {"type": "log", "domain": [0.012, 100], "nice": false}, "axis": {"orient": "left", "title": null, "values": [0.02, 0.03, 0.04, 0.05, 0.06, 0.07, 0.08, 0.09, 0.2, 0.3, 0.4, 0.5, 0.6, 0.7, 0.8, 0.9, 2, 3, 4, 5, 6, 7, 8, 9, 20, 30, 40, 50, 60, 70, 80, 90], "labels": false, "tickSize": 3, "grid": false, "domain": false}},
    "fill": {"field": "m", "type": "nominal", "scale": {"domain": ["pHost", "ExPs", "Homa", "NDP", "AMRT"], "range": ["#3e8dc5", "#b0d4e8", "#5fba5f", "#ff9800", "#e6332a"]}, "legend": null}}}
 ],
 "resolve": {"axis": {"y": "independent"}}
},
{"width": 545, "height": 128, "title": {"text": "(b) Cache Follower"},
 "transform": [{"filter": "datum.p == 'b'"}],
 "encoding": {
  "x": {"field": "l", "type": "nominal", "title": "Load", "scale": {"paddingInner": 0, "paddingOuter": 0.2256, "align": 0.567}},
  "xOffset": {"field": "m", "type": "nominal", "sort": ["pHost", "ExPs", "Homa", "NDP", "AMRT"], "scale": {"paddingInner": 0, "paddingOuter": 0.8245, "align": 0.2}}
 },
 "layer": [
  {"mark": {"type": "point", "filled": true, "opacity": 0},
   "encoding": {"y": {"field": "v", "type": "quantitative", "scale": {"type": "log", "domain": [0.0132, 100], "nice": false}, "axis": null},
    "color": {"field": "k", "type": "nominal", "scale": {"domain": ["pHostAvg", "ExPsAvg", "HomaAvg", "NDPAvg", "AMRTAvg", "pHost99th", "ExPs99th", "Homa99th", "NDP99th", "AMRT99th"], "range": ["#3e8dc5", "#b0d4e8", "#5fba5f", "#ff9800", "#e6332a", "white", "white", "white", "white", "white"]}, "legend": {"title": null, "encode": {"symbols": {"update": {"stroke": {"value": "black"}, "strokeWidth": {"value": 1}, "strokeOpacity": {"value": 1}, "opacity": {"value": 1}}}}}},
    "shape": {"field": "k", "type": "nominal", "scale": {"domain": ["pHostAvg", "ExPsAvg", "HomaAvg", "NDPAvg", "AMRTAvg", "pHost99th", "ExPs99th", "Homa99th", "NDP99th", "AMRT99th"], "range": ["M-0.5,-1H0.5Q0.75,-1 0.75,-0.75V0.75Q0.75,1 0.5,1H-0.5Q-0.75,1 -0.75,0.75V-0.75Q-0.75,-1 -0.5,-1ZM-0.75,-1L0.75,1", "M-0.5,-1H0.5Q0.75,-1 0.75,-0.75V0.75Q0.75,1 0.5,1H-0.5Q-0.75,1 -0.75,0.75V-0.75Q-0.75,-1 -0.5,-1ZM-0.75,1L0.75,-1", "M-0.5,-1H0.5Q0.75,-1 0.75,-0.75V0.75Q0.75,1 0.5,1H-0.5Q-0.75,1 -0.75,0.75V-0.75Q-0.75,-1 -0.5,-1ZM-0.75,-1L0.75,1M-0.75,1L0.75,-1", "M-0.5,-1H0.5Q0.75,-1 0.75,-0.75V0.75Q0.75,1 0.5,1H-0.5Q-0.75,1 -0.75,0.75V-0.75Q-0.75,-1 -0.5,-1ZM-0.75,-0.45H0.75", "M-0.5,-1H0.5Q0.75,-1 0.75,-0.75V0.75Q0.75,1 0.5,1H-0.5Q-0.75,1 -0.75,0.75V-0.75Q-0.75,-1 -0.5,-1ZM0,-1V1", "M-0.5,-1H0.5Q0.75,-1 0.75,-0.75V0.75Q0.75,1 0.5,1H-0.5Q-0.75,1 -0.75,0.75V-0.75Q-0.75,-1 -0.5,-1ZM-0.75,-1L0.75,1", "M-0.5,-1H0.5Q0.75,-1 0.75,-0.75V0.75Q0.75,1 0.5,1H-0.5Q-0.75,1 -0.75,0.75V-0.75Q-0.75,-1 -0.5,-1ZM-0.75,1L0.75,-1", "M-0.5,-1H0.5Q0.75,-1 0.75,-0.75V0.75Q0.75,1 0.5,1H-0.5Q-0.75,1 -0.75,0.75V-0.75Q-0.75,-1 -0.5,-1ZM-0.75,-1L0.75,1M-0.75,1L0.75,-1", "M-0.5,-1H0.5Q0.75,-1 0.75,-0.75V0.75Q0.75,1 0.5,1H-0.5Q-0.75,1 -0.75,0.75V-0.75Q-0.75,-1 -0.5,-1ZM-0.75,-0.45H0.75", "M-0.5,-1H0.5Q0.75,-1 0.75,-0.75V0.75Q0.75,1 0.5,1H-0.5Q-0.75,1 -0.75,0.75V-0.75Q-0.75,-1 -0.5,-1ZM0,-1V1"]}, "legend": {"title": null}}}},
  {"transform": [{"filter": "datum.s == '99th'"}], "mark": {"type": "bar", "fill": "white", "stroke": "black", "strokeWidth": 1},
   "encoding": {"y": {"field": "v", "type": "quantitative", "stack": null, "scale": {"type": "log", "domain": [0.0132, 100], "nice": false}, "axis": {"orient": "left", "title": "FCT (ms)", "titleFontSize": 20, "titlePadding": 14, "values": [0.1, 1, 10, 100], "labelExpr": "datum.value == 100 ? '10²' : datum.value == 10 ? '10¹' : datum.value == 1 ? '1' : '10⁻¹'", "labelFontSize": 14, "labelPadding": 2, "tickSize": 5, "grid": true, "gridDash": [2, 2], "gridColor": "#555555", "gridWidth": 0.8, "domainWidth": 1.5}}}},
  {"transform": [{"filter": "datum.s == 'Avg'"}], "mark": {"type": "bar", "stroke": "black", "strokeWidth": 1},
   "encoding": {"y": {"field": "v", "type": "quantitative", "stack": null, "scale": {"type": "log", "domain": [0.0132, 100], "nice": false}, "axis": {"orient": "left", "title": null, "values": [0.02, 0.03, 0.04, 0.05, 0.06, 0.07, 0.08, 0.09, 0.2, 0.3, 0.4, 0.5, 0.6, 0.7, 0.8, 0.9, 2, 3, 4, 5, 6, 7, 8, 9, 20, 30, 40, 50, 60, 70, 80, 90], "labels": false, "tickSize": 3, "grid": false, "domain": false}},
    "fill": {"field": "m", "type": "nominal", "scale": {"domain": ["pHost", "ExPs", "Homa", "NDP", "AMRT"], "range": ["#3e8dc5", "#b0d4e8", "#5fba5f", "#ff9800", "#e6332a"]}, "legend": null}}}
 ],
 "resolve": {"axis": {"y": "independent"}}
},
{"width": 545, "height": 128, "title": {"text": "(c) Hadoop Cluster"},
 "transform": [{"filter": "datum.p == 'c'"}],
 "encoding": {
  "x": {"field": "l", "type": "nominal", "title": "Load", "scale": {"paddingInner": 0, "paddingOuter": 0.2256, "align": 0.567}},
  "xOffset": {"field": "m", "type": "nominal", "sort": ["pHost", "ExPs", "Homa", "NDP", "AMRT"], "scale": {"paddingInner": 0, "paddingOuter": 0.8245, "align": 0.2}}
 },
 "layer": [
  {"mark": {"type": "point", "filled": true, "opacity": 0},
   "encoding": {"y": {"field": "v", "type": "quantitative", "scale": {"type": "log", "domain": [0.0132, 100], "nice": false}, "axis": null},
    "color": {"field": "k", "type": "nominal", "scale": {"domain": ["pHostAvg", "ExPsAvg", "HomaAvg", "NDPAvg", "AMRTAvg", "pHost99th", "ExPs99th", "Homa99th", "NDP99th", "AMRT99th"], "range": ["#3e8dc5", "#b0d4e8", "#5fba5f", "#ff9800", "#e6332a", "white", "white", "white", "white", "white"]}, "legend": {"title": null, "encode": {"symbols": {"update": {"stroke": {"value": "black"}, "strokeWidth": {"value": 1}, "strokeOpacity": {"value": 1}, "opacity": {"value": 1}}}}}},
    "shape": {"field": "k", "type": "nominal", "scale": {"domain": ["pHostAvg", "ExPsAvg", "HomaAvg", "NDPAvg", "AMRTAvg", "pHost99th", "ExPs99th", "Homa99th", "NDP99th", "AMRT99th"], "range": ["M-0.5,-1H0.5Q0.75,-1 0.75,-0.75V0.75Q0.75,1 0.5,1H-0.5Q-0.75,1 -0.75,0.75V-0.75Q-0.75,-1 -0.5,-1ZM-0.75,-1L0.75,1", "M-0.5,-1H0.5Q0.75,-1 0.75,-0.75V0.75Q0.75,1 0.5,1H-0.5Q-0.75,1 -0.75,0.75V-0.75Q-0.75,-1 -0.5,-1ZM-0.75,1L0.75,-1", "M-0.5,-1H0.5Q0.75,-1 0.75,-0.75V0.75Q0.75,1 0.5,1H-0.5Q-0.75,1 -0.75,0.75V-0.75Q-0.75,-1 -0.5,-1ZM-0.75,-1L0.75,1M-0.75,1L0.75,-1", "M-0.5,-1H0.5Q0.75,-1 0.75,-0.75V0.75Q0.75,1 0.5,1H-0.5Q-0.75,1 -0.75,0.75V-0.75Q-0.75,-1 -0.5,-1ZM-0.75,-0.45H0.75", "M-0.5,-1H0.5Q0.75,-1 0.75,-0.75V0.75Q0.75,1 0.5,1H-0.5Q-0.75,1 -0.75,0.75V-0.75Q-0.75,-1 -0.5,-1ZM0,-1V1", "M-0.5,-1H0.5Q0.75,-1 0.75,-0.75V0.75Q0.75,1 0.5,1H-0.5Q-0.75,1 -0.75,0.75V-0.75Q-0.75,-1 -0.5,-1ZM-0.75,-1L0.75,1", "M-0.5,-1H0.5Q0.75,-1 0.75,-0.75V0.75Q0.75,1 0.5,1H-0.5Q-0.75,1 -0.75,0.75V-0.75Q-0.75,-1 -0.5,-1ZM-0.75,1L0.75,-1", "M-0.5,-1H0.5Q0.75,-1 0.75,-0.75V0.75Q0.75,1 0.5,1H-0.5Q-0.75,1 -0.75,0.75V-0.75Q-0.75,-1 -0.5,-1ZM-0.75,-1L0.75,1M-0.75,1L0.75,-1", "M-0.5,-1H0.5Q0.75,-1 0.75,-0.75V0.75Q0.75,1 0.5,1H-0.5Q-0.75,1 -0.75,0.75V-0.75Q-0.75,-1 -0.5,-1ZM-0.75,-0.45H0.75", "M-0.5,-1H0.5Q0.75,-1 0.75,-0.75V0.75Q0.75,1 0.5,1H-0.5Q-0.75,1 -0.75,0.75V-0.75Q-0.75,-1 -0.5,-1ZM0,-1V1"]}, "legend": {"title": null}}}},
  {"transform": [{"filter": "datum.s == '99th'"}], "mark": {"type": "bar", "fill": "white", "stroke": "black", "strokeWidth": 1},
   "encoding": {"y": {"field": "v", "type": "quantitative", "stack": null, "scale": {"type": "log", "domain": [0.0132, 100], "nice": false}, "axis": {"orient": "left", "title": "FCT (ms)", "titleFontSize": 20, "titlePadding": 14, "values": [0.1, 1, 10, 100], "labelExpr": "datum.value == 100 ? '10²' : datum.value == 10 ? '10¹' : datum.value == 1 ? '1' : '10⁻¹'", "labelFontSize": 14, "labelPadding": 2, "tickSize": 5, "grid": true, "gridDash": [2, 2], "gridColor": "#555555", "gridWidth": 0.8, "domainWidth": 1.5}}}},
  {"transform": [{"filter": "datum.s == 'Avg'"}], "mark": {"type": "bar", "stroke": "black", "strokeWidth": 1},
   "encoding": {"y": {"field": "v", "type": "quantitative", "stack": null, "scale": {"type": "log", "domain": [0.0132, 100], "nice": false}, "axis": {"orient": "left", "title": null, "values": [0.02, 0.03, 0.04, 0.05, 0.06, 0.07, 0.08, 0.09, 0.2, 0.3, 0.4, 0.5, 0.6, 0.7, 0.8, 0.9, 2, 3, 4, 5, 6, 7, 8, 9, 20, 30, 40, 50, 60, 70, 80, 90], "labels": false, "tickSize": 3, "grid": false, "domain": false}},
    "fill": {"field": "m", "type": "nominal", "scale": {"domain": ["pHost", "ExPs", "Homa", "NDP", "AMRT"], "range": ["#3e8dc5", "#b0d4e8", "#5fba5f", "#ff9800", "#e6332a"]}, "legend": null}}}
 ],
 "resolve": {"axis": {"y": "independent"}}
},
{"width": 545, "height": 128, "title": {"text": "(d) Web Search"},
 "transform": [{"filter": "datum.p == 'd'"}],
 "encoding": {
  "x": {"field": "l", "type": "nominal", "title": "Load", "scale": {"paddingInner": 0, "paddingOuter": 0.2256, "align": 0.567}},
  "xOffset": {"field": "m", "type": "nominal", "sort": ["pHost", "ExPs", "Homa", "NDP", "AMRT"], "scale": {"paddingInner": 0, "paddingOuter": 0.8245, "align": 0.2}}
 },
 "layer": [
  {"mark": {"type": "point", "filled": true, "opacity": 0},
   "encoding": {"y": {"field": "v", "type": "quantitative", "scale": {"type": "log", "domain": [0.024, 100], "nice": false}, "axis": null},
    "color": {"field": "k", "type": "nominal", "scale": {"domain": ["pHostAvg", "ExPsAvg", "HomaAvg", "NDPAvg", "AMRTAvg", "pHost99th", "ExPs99th", "Homa99th", "NDP99th", "AMRT99th"], "range": ["#3e8dc5", "#b0d4e8", "#5fba5f", "#ff9800", "#e6332a", "white", "white", "white", "white", "white"]}, "legend": {"title": null, "encode": {"symbols": {"update": {"stroke": {"value": "black"}, "strokeWidth": {"value": 1}, "strokeOpacity": {"value": 1}, "opacity": {"value": 1}}}}}},
    "shape": {"field": "k", "type": "nominal", "scale": {"domain": ["pHostAvg", "ExPsAvg", "HomaAvg", "NDPAvg", "AMRTAvg", "pHost99th", "ExPs99th", "Homa99th", "NDP99th", "AMRT99th"], "range": ["M-0.5,-1H0.5Q0.75,-1 0.75,-0.75V0.75Q0.75,1 0.5,1H-0.5Q-0.75,1 -0.75,0.75V-0.75Q-0.75,-1 -0.5,-1ZM-0.75,-1L0.75,1", "M-0.5,-1H0.5Q0.75,-1 0.75,-0.75V0.75Q0.75,1 0.5,1H-0.5Q-0.75,1 -0.75,0.75V-0.75Q-0.75,-1 -0.5,-1ZM-0.75,1L0.75,-1", "M-0.5,-1H0.5Q0.75,-1 0.75,-0.75V0.75Q0.75,1 0.5,1H-0.5Q-0.75,1 -0.75,0.75V-0.75Q-0.75,-1 -0.5,-1ZM-0.75,-1L0.75,1M-0.75,1L0.75,-1", "M-0.5,-1H0.5Q0.75,-1 0.75,-0.75V0.75Q0.75,1 0.5,1H-0.5Q-0.75,1 -0.75,0.75V-0.75Q-0.75,-1 -0.5,-1ZM-0.75,-0.45H0.75", "M-0.5,-1H0.5Q0.75,-1 0.75,-0.75V0.75Q0.75,1 0.5,1H-0.5Q-0.75,1 -0.75,0.75V-0.75Q-0.75,-1 -0.5,-1ZM0,-1V1", "M-0.5,-1H0.5Q0.75,-1 0.75,-0.75V0.75Q0.75,1 0.5,1H-0.5Q-0.75,1 -0.75,0.75V-0.75Q-0.75,-1 -0.5,-1ZM-0.75,-1L0.75,1", "M-0.5,-1H0.5Q0.75,-1 0.75,-0.75V0.75Q0.75,1 0.5,1H-0.5Q-0.75,1 -0.75,0.75V-0.75Q-0.75,-1 -0.5,-1ZM-0.75,1L0.75,-1", "M-0.5,-1H0.5Q0.75,-1 0.75,-0.75V0.75Q0.75,1 0.5,1H-0.5Q-0.75,1 -0.75,0.75V-0.75Q-0.75,-1 -0.5,-1ZM-0.75,-1L0.75,1M-0.75,1L0.75,-1", "M-0.5,-1H0.5Q0.75,-1 0.75,-0.75V0.75Q0.75,1 0.5,1H-0.5Q-0.75,1 -0.75,0.75V-0.75Q-0.75,-1 -0.5,-1ZM-0.75,-0.45H0.75", "M-0.5,-1H0.5Q0.75,-1 0.75,-0.75V0.75Q0.75,1 0.5,1H-0.5Q-0.75,1 -0.75,0.75V-0.75Q-0.75,-1 -0.5,-1ZM0,-1V1"]}, "legend": {"title": null}}}},
  {"transform": [{"filter": "datum.s == '99th'"}], "mark": {"type": "bar", "fill": "white", "stroke": "black", "strokeWidth": 1},
   "encoding": {"y": {"field": "v", "type": "quantitative", "stack": null, "scale": {"type": "log", "domain": [0.024, 100], "nice": false}, "axis": {"orient": "left", "title": "FCT (ms)", "titleFontSize": 20, "titlePadding": 14, "values": [0.1, 1, 10, 100], "labelExpr": "datum.value == 100 ? '10²' : datum.value == 10 ? '10¹' : datum.value == 1 ? '1' : '10⁻¹'", "labelFontSize": 14, "labelPadding": 2, "tickSize": 5, "grid": true, "gridDash": [2, 2], "gridColor": "#555555", "gridWidth": 0.8, "domainWidth": 1.5}}}},
  {"transform": [{"filter": "datum.s == 'Avg'"}], "mark": {"type": "bar", "stroke": "black", "strokeWidth": 1},
   "encoding": {"y": {"field": "v", "type": "quantitative", "stack": null, "scale": {"type": "log", "domain": [0.024, 100], "nice": false}, "axis": {"orient": "left", "title": null, "values": [0.03, 0.04, 0.05, 0.06, 0.07, 0.08, 0.09, 0.2, 0.3, 0.4, 0.5, 0.6, 0.7, 0.8, 0.9, 2, 3, 4, 5, 6, 7, 8, 9, 20, 30, 40, 50, 60, 70, 80, 90], "labels": false, "tickSize": 3, "grid": false, "domain": false}},
    "fill": {"field": "m", "type": "nominal", "scale": {"domain": ["pHost", "ExPs", "Homa", "NDP", "AMRT"], "range": ["#3e8dc5", "#b0d4e8", "#5fba5f", "#ff9800", "#e6332a"]}, "legend": null}}}
 ],
 "resolve": {"axis": {"y": "independent"}}
},
{"width": 545, "height": 128, "title": {"text": "(e) Data Mining"},
 "transform": [{"filter": "datum.p == 'e'"}],
 "encoding": {
  "x": {"field": "l", "type": "nominal", "title": "Load", "scale": {"paddingInner": 0, "paddingOuter": 0.2256, "align": 0.567}},
  "xOffset": {"field": "m", "type": "nominal", "sort": ["pHost", "ExPs", "Homa", "NDP", "AMRT"], "scale": {"paddingInner": 0, "paddingOuter": 0.8245, "align": 0.2}}
 },
 "layer": [
  {"mark": {"type": "point", "filled": true, "opacity": 0},
   "encoding": {"y": {"field": "v", "type": "quantitative", "scale": {"type": "log", "domain": [0.0162, 100], "nice": false}, "axis": null},
    "color": {"field": "k", "type": "nominal", "scale": {"domain": ["pHostAvg", "ExPsAvg", "HomaAvg", "NDPAvg", "AMRTAvg", "pHost99th", "ExPs99th", "Homa99th", "NDP99th", "AMRT99th"], "range": ["#3e8dc5", "#b0d4e8", "#5fba5f", "#ff9800", "#e6332a", "white", "white", "white", "white", "white"]}, "legend": {"title": null, "encode": {"symbols": {"update": {"stroke": {"value": "black"}, "strokeWidth": {"value": 1}, "strokeOpacity": {"value": 1}, "opacity": {"value": 1}}}}}},
    "shape": {"field": "k", "type": "nominal", "scale": {"domain": ["pHostAvg", "ExPsAvg", "HomaAvg", "NDPAvg", "AMRTAvg", "pHost99th", "ExPs99th", "Homa99th", "NDP99th", "AMRT99th"], "range": ["M-0.5,-1H0.5Q0.75,-1 0.75,-0.75V0.75Q0.75,1 0.5,1H-0.5Q-0.75,1 -0.75,0.75V-0.75Q-0.75,-1 -0.5,-1ZM-0.75,-1L0.75,1", "M-0.5,-1H0.5Q0.75,-1 0.75,-0.75V0.75Q0.75,1 0.5,1H-0.5Q-0.75,1 -0.75,0.75V-0.75Q-0.75,-1 -0.5,-1ZM-0.75,1L0.75,-1", "M-0.5,-1H0.5Q0.75,-1 0.75,-0.75V0.75Q0.75,1 0.5,1H-0.5Q-0.75,1 -0.75,0.75V-0.75Q-0.75,-1 -0.5,-1ZM-0.75,-1L0.75,1M-0.75,1L0.75,-1", "M-0.5,-1H0.5Q0.75,-1 0.75,-0.75V0.75Q0.75,1 0.5,1H-0.5Q-0.75,1 -0.75,0.75V-0.75Q-0.75,-1 -0.5,-1ZM-0.75,-0.45H0.75", "M-0.5,-1H0.5Q0.75,-1 0.75,-0.75V0.75Q0.75,1 0.5,1H-0.5Q-0.75,1 -0.75,0.75V-0.75Q-0.75,-1 -0.5,-1ZM0,-1V1", "M-0.5,-1H0.5Q0.75,-1 0.75,-0.75V0.75Q0.75,1 0.5,1H-0.5Q-0.75,1 -0.75,0.75V-0.75Q-0.75,-1 -0.5,-1ZM-0.75,-1L0.75,1", "M-0.5,-1H0.5Q0.75,-1 0.75,-0.75V0.75Q0.75,1 0.5,1H-0.5Q-0.75,1 -0.75,0.75V-0.75Q-0.75,-1 -0.5,-1ZM-0.75,1L0.75,-1", "M-0.5,-1H0.5Q0.75,-1 0.75,-0.75V0.75Q0.75,1 0.5,1H-0.5Q-0.75,1 -0.75,0.75V-0.75Q-0.75,-1 -0.5,-1ZM-0.75,-1L0.75,1M-0.75,1L0.75,-1", "M-0.5,-1H0.5Q0.75,-1 0.75,-0.75V0.75Q0.75,1 0.5,1H-0.5Q-0.75,1 -0.75,0.75V-0.75Q-0.75,-1 -0.5,-1ZM-0.75,-0.45H0.75", "M-0.5,-1H0.5Q0.75,-1 0.75,-0.75V0.75Q0.75,1 0.5,1H-0.5Q-0.75,1 -0.75,0.75V-0.75Q-0.75,-1 -0.5,-1ZM0,-1V1"]}, "legend": {"title": null}}}},
  {"transform": [{"filter": "datum.s == '99th'"}], "mark": {"type": "bar", "fill": "white", "stroke": "black", "strokeWidth": 1},
   "encoding": {"y": {"field": "v", "type": "quantitative", "stack": null, "scale": {"type": "log", "domain": [0.0162, 100], "nice": false}, "axis": {"orient": "left", "title": "FCT (ms)", "titleFontSize": 20, "titlePadding": 14, "values": [0.1, 1, 10, 100], "labelExpr": "datum.value == 100 ? '10²' : datum.value == 10 ? '10¹' : datum.value == 1 ? '1' : '10⁻¹'", "labelFontSize": 14, "labelPadding": 2, "tickSize": 5, "grid": true, "gridDash": [2, 2], "gridColor": "#555555", "gridWidth": 0.8, "domainWidth": 1.5}}}},
  {"transform": [{"filter": "datum.s == 'Avg'"}], "mark": {"type": "bar", "stroke": "black", "strokeWidth": 1},
   "encoding": {"y": {"field": "v", "type": "quantitative", "stack": null, "scale": {"type": "log", "domain": [0.0162, 100], "nice": false}, "axis": {"orient": "left", "title": null, "values": [0.02, 0.03, 0.04, 0.05, 0.06, 0.07, 0.08, 0.09, 0.2, 0.3, 0.4, 0.5, 0.6, 0.7, 0.8, 0.9, 2, 3, 4, 5, 6, 7, 8, 9, 20, 30, 40, 50, 60, 70, 80, 90], "labels": false, "tickSize": 3, "grid": false, "domain": false}},
    "fill": {"field": "m", "type": "nominal", "scale": {"domain": ["pHost", "ExPs", "Homa", "NDP", "AMRT"], "range": ["#3e8dc5", "#b0d4e8", "#5fba5f", "#ff9800", "#e6332a"]}, "legend": null}}}
 ],
 "resolve": {"axis": {"y": "independent"}}
}
]
}
